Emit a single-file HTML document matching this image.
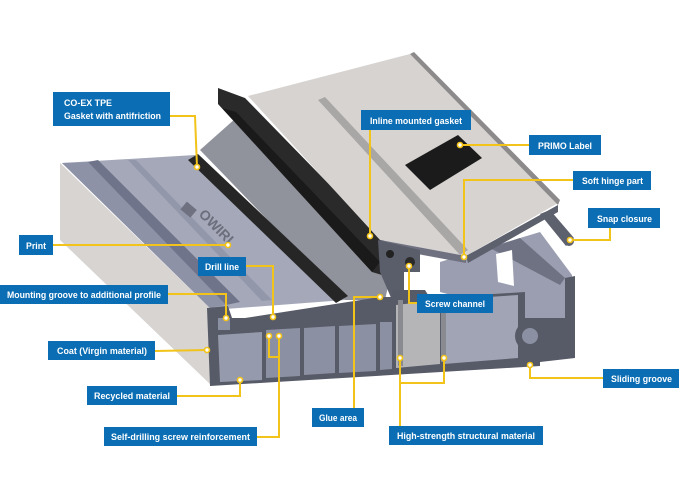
<!DOCTYPE html>
<html><head><meta charset="utf-8"><style>
html,body{margin:0;padding:0;background:#fff;}
svg{display:block;}
.t{font-family:"Liberation Sans",sans-serif;font-weight:bold;font-size:9px;fill:#fff;}
.b{fill:#0b6db3;}
.l{stroke:#f2c318;stroke-width:2;fill:none;}
.d{fill:#fff;stroke:#f2c318;stroke-width:1.6;}
</style></head><body>
<svg width="679" height="500" viewBox="0 0 679 500" xmlns="http://www.w3.org/2000/svg">
<!-- left outer side face -->
<polygon points="60,163 210,308 212,386 60,240" fill="#d7d4d2"/>
<!-- deck -->
<polygon points="62,163 195,155 345,300 212,310" fill="#a4a8b9"/>
<polygon points="62,163 88,162 226,305 210,308" fill="#8d92a6"/>
<polygon points="88,162 98,160 240,302 226,305" fill="#6f748a"/>
<polygon points="128,160 136,160 272,300 262,301" fill="#9297aa"/>
<!-- print -->
<rect x="182" y="205" width="13" height="10" fill="#6f7080" transform="rotate(40 189 210)"/>
<text x="198" y="215" font-family="Liberation Sans,sans-serif" font-weight="bold" font-size="14" fill="#6c6e7c" transform="rotate(45 198 215)">OWIRI</text>
<!-- striped area under big gasket -->
<polygon points="200,150 245,110 395,255 385,300 345,300" fill="#90929c"/>
<!-- small black gasket -->
<polygon points="188,160 198,154 348,296 336,303" fill="#262626"/>
<!-- right rails behind -->
<polygon points="440,262 540,232 572,275 572,358 530,362 470,300 440,292" fill="#9a9eb0"/>
<polygon points="490,248 520,238 565,278 560,285" fill="#6e7282"/>
<polygon points="496,254 512,250 514,286 498,282" fill="#fff"/>
<polygon points="540,214 550,210 574,238 566,246" fill="#5d606d"/>
<circle cx="569" cy="241" r="5" fill="#5d606d"/>
<!-- big black gasket -->
<polygon points="218,88 245,98 395,252 382,275 372,272 218,104" fill="#2a2a2a"/>
<polygon points="222,108 236,112 380,262 372,272" fill="#1a1a1a"/>
<!-- cover plate -->
<polygon points="248,96 410,54 558,203 466,256 380,240" fill="#d6d3d1"/>
<polygon points="318,100 325,97 468,250 460,255" fill="#a9a7a6"/>
<polygon points="410,54 414,52 560,200 558,205" fill="#8c8a8a"/>
<polygon points="380,240 466,256 466,263 385,248" fill="#6f7180"/>
<polygon points="466,256 558,205 558,212 468,263" fill="#5d606d"/>
<polygon points="458,135 482,158 430,190 405,165" fill="#1b1b1b"/>
<!-- screw channel block -->
<polygon points="378,240 420,250 420,272 404,272 404,300 392,300 380,272" fill="#5a5d6a"/>
<circle cx="410" cy="262" r="5" fill="#2a2a2a"/>
<circle cx="390" cy="254" r="4" fill="#222"/>
<!-- front cross-section -->
<polygon points="207,308 228,306 232,318 245,318 380,297 392,297 392,290 425,290 430,298 525,292 525,318 565,318 565,278 575,276 575,358 540,362 540,366 210,386" fill="#575a67"/>
<polygon points="218,335 262,332 262,380 220,382" fill="#959aac"/>
<polygon points="266,330 300,328 300,376 266,378" fill="#8b90a3"/>
<polygon points="304,328 335,326 335,373 304,375" fill="#8b90a3"/>
<polygon points="339,326 376,324 376,371 339,373" fill="#8b90a3"/>
<polygon points="380,322 392,322 392,369 380,370" fill="#8b90a3"/>
<polygon points="396,305 440,300 440,364 396,368" fill="#b5b5b8"/>
<polygon points="444,300 518,295 518,358 444,364" fill="#a0a4b5"/>
<rect x="398" y="300" width="5" height="66" fill="#8a8b90"/>
<rect x="441" y="298" width="5" height="64" fill="#8a8b90"/>
<circle cx="530" cy="336" r="15" fill="#575a67"/>
<circle cx="530" cy="336" r="8" fill="#8b90a3"/>
<polygon points="218,318 230,318 230,330 218,330" fill="#8b90a3"/>
<!-- leader lines -->
<polyline class="l" points="170,116 195,116 197,167"/>
<polyline class="l" points="370,130 370,236"/>
<polyline class="l" points="529,145 460,145"/>
<polyline class="l" points="573,180 464,180 464,257"/>
<polyline class="l" points="610,228 610,240 570,240"/>
<polyline class="l" points="53,245 228,245"/>
<polyline class="l" points="246,266 273,266 273,317"/>
<polyline class="l" points="168,294 226,294 226,318"/>
<polyline class="l" points="417,303 409,303 409,266"/>
<polyline class="l" points="155,351 207,350"/>
<polyline class="l" points="603,378 530,378 530,365"/>
<polyline class="l" points="177,396 240,396 240,380"/>
<polyline class="l" points="354,408 354,297 380,297"/>
<polyline class="l" points="257,437 279,437 279,336"/>
<polyline class="l" points="269,336 269,357 279,357"/>
<polyline class="l" points="400,426 400,358"/>
<polyline class="l" points="400,383 444,383 444,358"/>
<g>
<circle class="d" cx="197" cy="167" r="2.5"/><circle class="d" cx="370" cy="236" r="2.5"/>
<circle class="d" cx="460" cy="145" r="2.5"/><circle class="d" cx="464" cy="257" r="2.5"/>
<circle class="d" cx="570" cy="240" r="2.5"/><circle class="d" cx="228" cy="245" r="2.5"/>
<circle class="d" cx="273" cy="317" r="2.5"/><circle class="d" cx="226" cy="318" r="2.5"/>
<circle class="d" cx="409" cy="266" r="2.5"/><circle class="d" cx="207" cy="350" r="2.5"/>
<circle class="d" cx="530" cy="365" r="2.5"/><circle class="d" cx="240" cy="380" r="2.5"/>
<circle class="d" cx="380" cy="297" r="2.5"/><circle class="d" cx="279" cy="336" r="2.5"/>
<circle class="d" cx="269" cy="336" r="2.5"/><circle class="d" cx="400" cy="358" r="2.5"/>
<circle class="d" cx="444" cy="358" r="2.5"/>
</g>
<!-- labels -->
<rect class="b" x="53" y="92" width="117" height="34"/>
<text class="t" x="64" y="106" textLength="48" lengthAdjust="spacingAndGlyphs">CO-EX TPE</text><text class="t" x="64" y="119" textLength="97" lengthAdjust="spacingAndGlyphs">Gasket with antifriction</text>
<rect class="b" x="361" y="110" width="110" height="20"/><text class="t" x="370" y="124" textLength="92" lengthAdjust="spacingAndGlyphs">Inline mounted gasket</text>
<rect class="b" x="529" y="135" width="72" height="20"/><text class="t" x="538" y="149" textLength="54" lengthAdjust="spacingAndGlyphs">PRIMO Label</text>
<rect class="b" x="573" y="171" width="78" height="19"/><text class="t" x="582" y="184" textLength="61" lengthAdjust="spacingAndGlyphs">Soft hinge part</text>
<rect class="b" x="588" y="208" width="72" height="20"/><text class="t" x="597" y="222" textLength="55" lengthAdjust="spacingAndGlyphs">Snap closure</text>
<rect class="b" x="19" y="235" width="34" height="20"/><text class="t" x="26" y="249" textLength="20" lengthAdjust="spacingAndGlyphs">Print</text>
<rect class="b" x="198" y="257" width="48" height="19"/><text class="t" x="205" y="270" textLength="34" lengthAdjust="spacingAndGlyphs">Drill line</text>
<rect class="b" x="0" y="285" width="168" height="19"/><text class="t" x="7" y="298" textLength="154" lengthAdjust="spacingAndGlyphs">Mounting groove to additional profile</text>
<rect class="b" x="417" y="294" width="76" height="19"/><text class="t" x="425" y="307" textLength="60" lengthAdjust="spacingAndGlyphs">Screw channel</text>
<rect class="b" x="48" y="341" width="107" height="19"/><text class="t" x="57" y="354" textLength="90" lengthAdjust="spacingAndGlyphs">Coat (Virgin material)</text>
<rect class="b" x="603" y="369" width="76" height="19"/><text class="t" x="611" y="382" textLength="61" lengthAdjust="spacingAndGlyphs">Sliding groove</text>
<rect class="b" x="87" y="386" width="90" height="19"/><text class="t" x="94" y="399" textLength="76" lengthAdjust="spacingAndGlyphs">Recycled material</text>
<rect class="b" x="312" y="408" width="52" height="19"/><text class="t" x="319" y="421" textLength="38" lengthAdjust="spacingAndGlyphs">Glue area</text>
<rect class="b" x="104" y="427" width="153" height="19"/><text class="t" x="111" y="440" textLength="139" lengthAdjust="spacingAndGlyphs">Self-drilling screw reinforcement</text>
<rect class="b" x="389" y="426" width="154" height="19"/><text class="t" x="397" y="439" textLength="138" lengthAdjust="spacingAndGlyphs">High-strength structural material</text>
</svg>
</body></html>
